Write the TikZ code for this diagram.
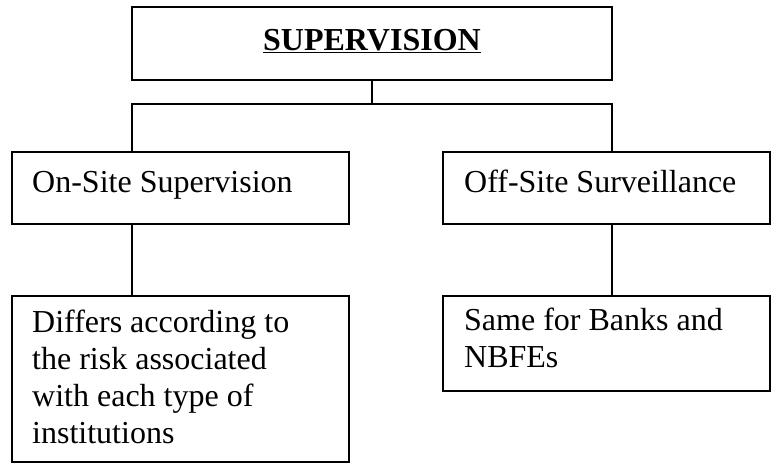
\documentclass[tikz,border=0pt]{standalone}
\usepackage{fontspec}
\setmainfont{Liberation Serif}
\begin{document}
\begin{tikzpicture}[x=1pt,y=-1pt,
  box/.style={draw, line width=1.3pt, inner sep=0pt, outer sep=0pt, anchor=north west},
  txt/.style={anchor=base west, inner sep=0pt, align=left, font=\fontsize{32}{36.7}\selectfont},
  conn/.style={line width=1.3pt}]
\useasboundingbox (0,0) rectangle (771,464);
% boxes
\node[box, minimum width=480pt, minimum height=73pt] (top) at (132,7) {};
\node[box, minimum width=337pt, minimum height=72pt] (on) at (12,152) {};
\node[box, minimum width=327pt, minimum height=72pt] (off) at (443,152) {};
\node[box, minimum width=337pt, minimum height=166pt] (diff) at (12,296) {};
\node[box, minimum width=327pt, minimum height=95pt] (same) at (443,296) {};
% texts (base anchor = baseline of the last line)
\node[txt, anchor=base, font=\fontsize{32}{36.7}\selectfont\bfseries] (toptxt) at (372,50) {\underline{SUPERVISION}};
\node[txt] (ontxt) at (32,192) {On-Site Supervision};
\node[txt] (offtxt) at (464,192) {Off-Site Surveillance};
\node[txt] (difftxt) at (32,443) {Differs according to\\the risk associated\\with each type of\\institutions};
\node[txt] (sametxt) at (464,367) {Same for Banks and\\NBFEs};
% connector points
\path (top.south) ++(0,24) coordinate (j);
\path (on.north west) ++(120,0) coordinate (c1);
\path (off.north west) ++(169,0) coordinate (c2);
\path (on.south west) ++(120,0) coordinate (d1);
\path (diff.north west) ++(120,0) coordinate (e1);
\path (off.south west) ++(169,0) coordinate (d2);
\path (same.north west) ++(169,0) coordinate (e2);
% connectors
\draw[conn] (top.south) -- (j);
\draw[conn] (c1) |- (j) -| (c2);
\draw[conn] (d1) -- (e1);
\draw[conn] (d2) -- (e2);
\end{tikzpicture}
\end{document}
